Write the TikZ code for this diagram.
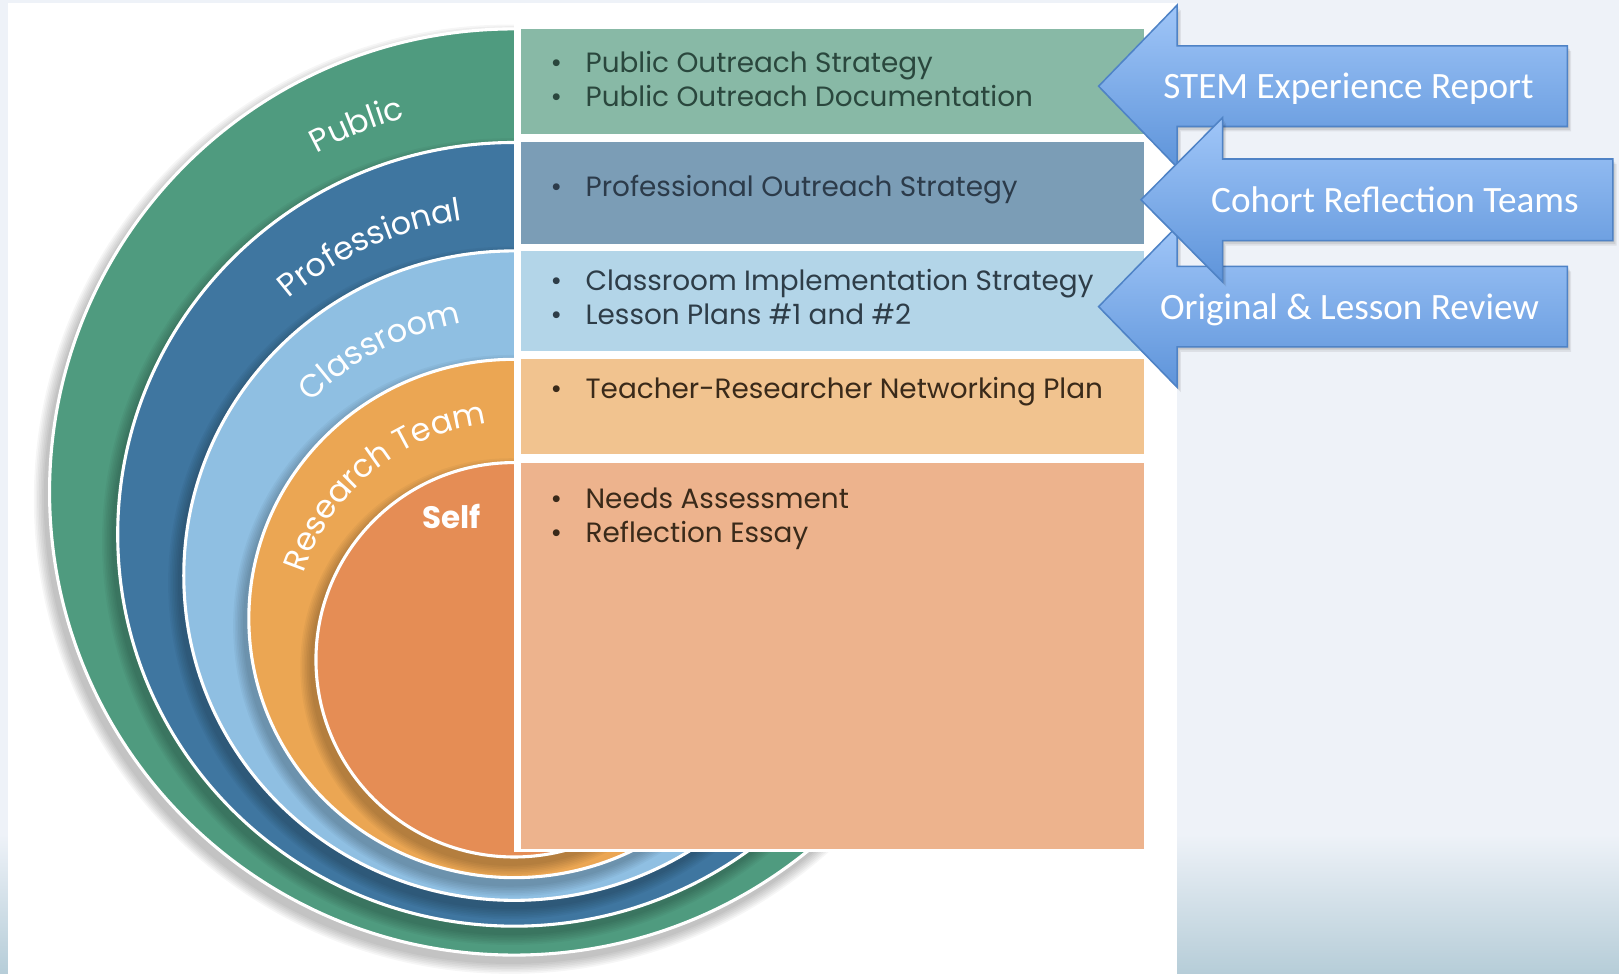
\documentclass[tikz,border=0pt]{standalone}
\usepackage{fontspec}
\setmainfont{Poppins}
\newfontfamily\arrowfont{Carlito}
\usetikzlibrary{decorations.text,calc}

\definecolor{bgpale}{HTML}{EEF2F8}
\definecolor{bgdeep}{HTML}{B6CDD8}
\definecolor{pubband}{HTML}{4F9B7F}
\definecolor{pubrect}{HTML}{88B9A6}
\definecolor{proband}{HTML}{3F76A0}
\definecolor{prorect}{HTML}{7B9DB6}
\definecolor{claband}{HTML}{8FBFE2}
\definecolor{clarect}{HTML}{B3D5E8}
\definecolor{resband}{HTML}{EBA653}
\definecolor{resrect}{HTML}{F1C38F}
\definecolor{selfband}{HTML}{E58D55}
\definecolor{selfrect}{HTML}{EDB38D}
\definecolor{arrowtop}{HTML}{A0C6F8}
\definecolor{arrowbot}{HTML}{5E94DA}
\definecolor{arrowline}{HTML}{4F83C6}
\definecolor{inkgreen}{HTML}{2A473D}
\definecolor{inkslate}{HTML}{2C3B4A}
\definecolor{inkblue}{HTML}{2E3D48}
\definecolor{inkbrown}{HTML}{3A2A1A}

\newcommand\blockarrowpath[6]{(#1,#2) -- (#3,#2+#5) -- (#3,#2+#6) -- (#4,#2+#6) -- (#4,#2-#6) -- (#3,#2-#6) -- (#3,#2-#5) -- cycle}
\newcommand\bandfont{\fontsize{31}{36}\selectfont}

\begin{document}
\begin{tikzpicture}[x=1pt,y=1pt,
  rowtext/.style={anchor=base west, inner sep=0pt, font=\fontsize{27}{32}\selectfont},
  arrowtext/.style={text=white, font=\arrowfont\fontsize{36}{42}\selectfont, inner sep=0pt},
  arrowbody/.style={top color=arrowtop, bottom color=arrowbot, draw=arrowline, line width=1.5pt, line join=miter},
  arrowshadow/.style={fill=black, opacity=0.07},
  bandlabel/.style={decorate, decoration={text along path, text align=center, text color=white, text={#1}}}
]
\useasboundingbox (0,0) rectangle (1568,943);
% background
\fill[bgpale] (0,0) rectangle (1568,943);
\shade[top color=bgpale, bottom color=bgdeep] (0,0) rectangle (1568,135);
\fill[white] (8,0) rectangle (1140,940);

% nested half ellipses with soft shadows
\foreach \col/\cy/\rx/\ry in {pubband/466.5/450/448.5, proband/425.5/384/379.5, claband/385.5/320/314.5, resband/344/257/251, selfband/304/192/191}{
  \foreach \k in {1,...,7}{
    \pgfmathsetmacro\rxx{\rx+\k*1.6}
    \pgfmathsetmacro\ryy{\ry+\k*1.6}
    \fill[black, opacity=0.035] (494,\cy-7) ellipse [x radius=\rxx pt, y radius=\ryy pt];
  }
  \fill[\col, draw=white, line width=3pt] (498,\cy) ellipse [x radius=\rx pt, y radius=\ry pt];
}

% white cover behind the right column
\fill[white] (498,118) rectangle (1113,922);

% right column rectangles
\fill[pubrect] (505,813) rectangle (1108,915);
\fill[prorect] (505,707) rectangle (1108,805);
\fill[clarect] (505,603) rectangle (1108,700);
\fill[resrect] (505,503) rectangle (1108,595);
\fill[selfrect] (505,121) rectangle (1108,495);

% curved band labels
\path[bandlabel={|\bandfont|Public}] ([shift={(158:400pt and 397pt)}]498,446) arc [start angle=158, end angle=66, x radius=400pt, y radius=397pt];
\path[bandlabel={|\bandfont|Professional}] ([shift={(176:333pt and 328pt)}]498,405.5) arc [start angle=176, end angle=54, x radius=333pt, y radius=328pt];
\path[bandlabel={|\bandfont|Classroom}] ([shift={(178:276pt and 270pt)}]498,364.75) arc [start angle=178, end angle=59, x radius=276pt, y radius=270pt];
\path[bandlabel={|\bandfont|Research Team}] ([shift={(200:214pt and 210pt)}]498,324) arc [start angle=200, end angle=60, x radius=214pt, y radius=210pt];
\node[text=white, font=\fontsize{30}{36}\selectfont\bfseries, inner sep=0pt] (selflabel) at (437,443) {Self};

% row texts
\node[rowtext, text=inkgreen] (r1a) at (533,873) {\makebox[34pt][l]{•}Public Outreach Strategy};
\node[rowtext, text=inkgreen] (r1b) at (533,840) {\makebox[34pt][l]{•}Public Outreach Documentation};
\node[rowtext, text=inkslate] (r2a) at (533,753) {\makebox[34pt][l]{•}Professional Outreach Strategy};
\node[rowtext, text=inkblue] (r3a) at (533,662) {\makebox[34pt][l]{•}Classroom Implementation Strategy};
\node[rowtext, text=inkblue] (r3b) at (533,629) {\makebox[34pt][l]{•}Lesson Plans \#1 and \#2};
\node[rowtext, text=inkbrown] (r4a) at (533,557) {\makebox[34pt][l]{•}Teacher-Researcher Networking Plan};
\node[rowtext, text=inkbrown] (r5a) at (533,451) {\makebox[34pt][l]{•}Needs Assessment};
\node[rowtext, text=inkbrown] (r5b) at (533,418) {\makebox[34pt][l]{•}Reflection Essay};

% block arrows: 1, 3, then 2 on top
\foreach \s in {2,4,6}{\fill[arrowshadow] [shift={(\s*0.6,-\s*0.8)}] \blockarrowpath{1064}{859.5}{1140}{1518}{78.5}{39};}
\path[arrowbody] \blockarrowpath{1064}{859.5}{1140}{1518}{78.5}{39};
\node[arrowtext] (stem) at (1306,857) {STEM Experience Report};

\foreach \s in {2,4,6}{\fill[arrowshadow] [shift={(\s*0.6,-\s*0.8)}] \blockarrowpath{1064}{646}{1140}{1518}{78}{39};}
\path[arrowbody] \blockarrowpath{1064}{646}{1140}{1518}{78}{39};
\node[arrowtext] (orig) at (1307,643) {Original \& Lesson Review};

\foreach \s in {2,4,6}{\fill[arrowshadow] [shift={(\s*0.6,-\s*0.8)}] \blockarrowpath{1105}{749.5}{1184}{1562}{79.5}{39.5};}
\path[arrowbody] \blockarrowpath{1105}{749.5}{1184}{1562}{79.5}{39.5};
\node[arrowtext] (cohort) at (1351,750) {Cohort Reflection Teams};
\end{tikzpicture}
\end{document}
